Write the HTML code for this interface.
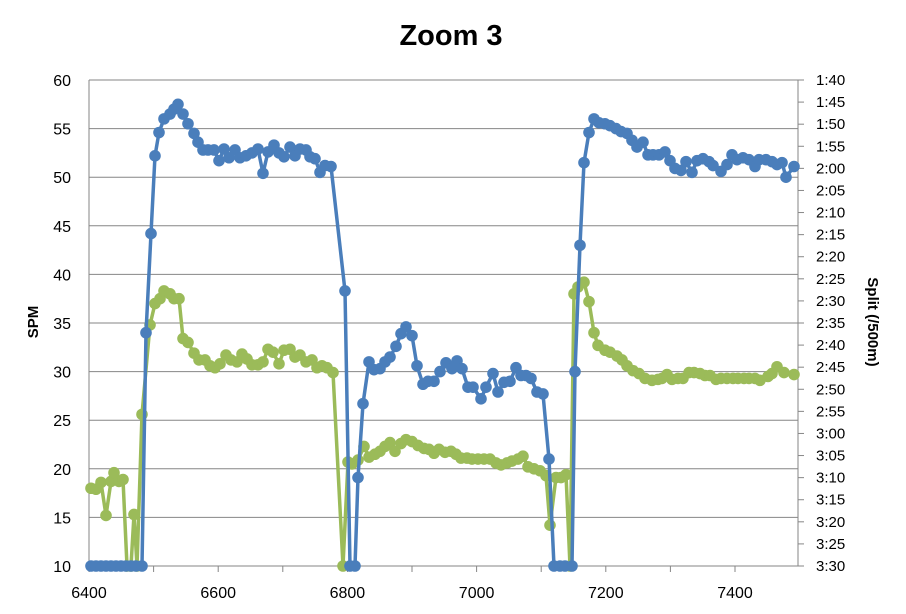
<!DOCTYPE html>
<html><head><meta charset="utf-8"><style>
body{margin:0;background:#fff}
svg{display:block;font-family:"Liberation Sans",sans-serif}
</style></head><body>
<svg id="s" width="906" height="614" xmlns="http://www.w3.org/2000/svg">
<text x="451" y="45" text-anchor="middle" font-size="29" font-weight="bold">Zoom 3</text>
<text transform="translate(38,322) rotate(-90)" text-anchor="middle" font-size="15" font-weight="bold">SPM</text>
<text transform="translate(868,322) rotate(90)" text-anchor="middle" font-size="15" font-weight="bold">Split (/500m)</text>
<g id="g"></g>
</svg>
<script>
var ns="http://www.w3.org/2000/svg",g=document.getElementById('g');
function el(t,a,txt){var e=document.createElementNS(ns,t);for(var k in a)e.setAttribute(k,a[k]);if(txt!=null)e.textContent=txt;g.appendChild(e);return e;}
function Y(v){return 566-(v-10)*9.72;}
for(var v=10;v<=60;v+=5){var y=Y(v);el('line',{x1:89,x2:798,y1:y,y2:y,stroke:'#868686','stroke-width':1});
el('text',{x:71,y:y+6,'text-anchor':'end','font-size':16},v);}
el('line',{x1:89,x2:89,y1:80,y2:566,stroke:'#868686'});
el('line',{x1:798,x2:798,y1:80,y2:566,stroke:'#868686'});
for(var i=0;i<=10;i++){var x=89+i*64.6;el('line',{x1:x,x2:x,y1:566,y2:572,stroke:'#868686'});
if(i%2==0)el('text',{x:x,y:598,'text-anchor':'middle','font-size':16},6400+i*100);}
for(var i=0;i<=22;i++){var y=80+i*486/22;el('line',{x1:798,x2:804,y1:y,y2:y,stroke:'#868686'});
var s=100+i*5,m=Math.floor(s/60),sc=s%60;el('text',{x:816,y:y+5,'font-size':15},m+':'+(sc<10?'0':'')+sc);}
var blue=[[91,10],[96,10],[101,10],[106,10],[111,10],[116,10],[121,10],[126,10],[131,10],[136,10],[142,10],[146,34],[151,44.2],[155,52.2],[159,54.6],[164,56],[170,56.5],[174,57],[178,57.5],[183,56.5],[188,55.5],[194,54.5],[198,53.6],[203,52.8],[208,52.8],[214,52.8],[219,51.7],[224,52.9],[229,52],[235,52.8],[240,52],[246,52.2],[252,52.5],[258,52.9],[263,50.4],[268,52.6],[274,53.3],[279,52.5],[284,52.1],[290,53.1],[295,52.2],[300,52.9],[306,52.8],[310,52.1],[315,51.9],[320,50.5],[325,51.2],[331,51.1],[345,38.3],[350,10],[355,10],[358,19.1],[363,26.7],[369,31],[374,30.2],[380,30.3],[385,31],[390,31.5],[396,32.6],[401,33.9],[406,34.6],[412,33.7],[417,30.6],[423,28.7],[428,29],[434,29],[440,30],[446,30.9],[452,30.3],[457,31.1],[462,30.3],[468,28.4],[473,28.4],[481,27.2],[486,28.4],[493,29.8],[498,27.9],[504,28.9],[510,29],[516,30.4],[521,29.6],[526,29.6],[531,29.3],[537,27.9],[543,27.7],[549,21],[554,10],[560,10],[565,10],[572,10],[575,30],[580,43],[584,51.5],[589,54.6],[594,56],[599,55.6],[605,55.5],[610,55.3],[616,55],[621,54.7],[627,54.5],[632,53.8],[637,53.1],[643,53.6],[648,52.3],[653,52.3],[659,52.3],[665,52.6],[670,51.7],[675,50.9],[681,50.7],[686,51.6],[692,50.5],[697,51.7],[703,51.9],[709,51.6],[713,51.2],[721,50.6],[727,51.3],[732,52.3],[737,51.8],[743,52],[749,51.8],[755,51.1],[759,51.8],[766,51.8],[772,51.6],[777,51.3],[782,51.5],[786,50],[794,51.1]];
var green=[[91,18],[96,17.9],[101,18.6],[106,15.2],[111,18.7],[114,19.6],[119,18.7],[123,18.9],[127,10],[131,10],[134,15.3],[137,10],[142,25.6],[150,34.8],[155,37],[160,37.5],[164,38.3],[170,38],[174,37.5],[179,37.5],[183,33.4],[188,33],[194,31.9],[199,31.2],[205,31.2],[210,30.6],[215,30.4],[220,30.8],[226,31.7],[231,31.2],[237,31],[242,31.8],[247,31.3],[252,30.7],[258,30.7],[263,31],[268,32.3],[273,32],[279,30.8],[284,32.2],[290,32.3],[295,31.5],[300,31.7],[306,31],[312,31.2],[317,30.4],[322,30.6],[327,30.4],[333,29.9],[343,10],[348,20.7],[352,20.5],[358,20.9],[364,22.3],[369,21.2],[375,21.5],[380,21.8],[385,22.3],[390,22.7],[395,21.8],[401,22.6],[406,23],[412,22.8],[418,22.4],[424,22.1],[429,22],[434,21.6],[439,22],[445,21.7],[451,21.8],[456,21.5],[461,21.1],[467,21.1],[472,21],[478,21],[484,21],[490,21],[496,20.6],[501,20.4],[507,20.6],[512,20.8],[518,21],[523,21.3],[528,20.2],[534,20],[540,19.8],[546,19.3],[550,14.2],[556,19.1],[561,19.1],[566,19.4],[570,10],[574,38],[578,38.7],[584,39.2],[589,37.2],[594,34],[598,32.7],[605,32.2],[610,32],[617,31.6],[622,31.2],[627,30.6],[633,30.1],[639,29.8],[645,29.3],[652,29.1],[658,29.2],[662,29.3],[667,29.7],[672,29.2],[678,29.3],[683,29.3],[689,29.9],[694,29.9],[700,29.8],[705,29.6],[710,29.6],[716,29.2],[721,29.3],[727,29.3],[733,29.3],[738,29.3],[744,29.3],[749,29.3],[755,29.3],[760,29.1],[768,29.5],[772,29.8],[777,30.5],[784,29.9],[794,29.7]];
function series(d,c){var p=d.map(function(q){return q[0]+','+Y(q[1]).toFixed(1)}).join(' ');
el('polyline',{points:p,fill:'none',stroke:c,'stroke-width':3.5,'stroke-linejoin':'round'});
d.forEach(function(q){el('circle',{cx:q[0],cy:Y(q[1]),r:5.8,fill:c});});}
series(green,'#9bbb59');series(blue,'#4a7ebb');
</script>
</body></html>
